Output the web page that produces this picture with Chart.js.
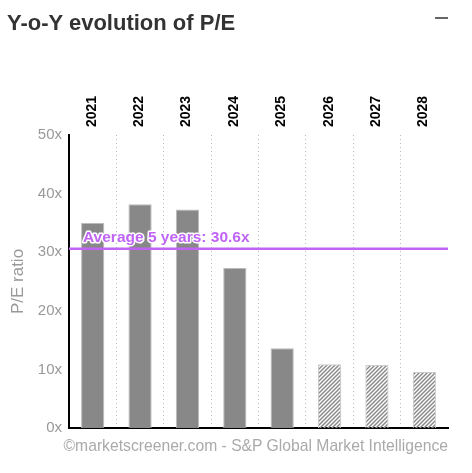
<!DOCTYPE html>
<html>
<head>
<meta charset="utf-8">
<script src="https://cdn.jsdelivr.net/npm/chart.js@4/dist/chart.umd.min.js"></script>
<style>
  html, body { margin: 0; padding: 0; background: #fff; }
  #wrap { position: relative; width: 472px; height: 473px; overflow: hidden; font-family: Arial, "Liberation Sans", sans-serif; }
  #title { position: absolute; left: 7px; top: 11px; font-size: 22px; font-weight: bold; color: #333; line-height: 24px; white-space: nowrap; }
  #minus { position: absolute; left: 435px; top: 17px; width: 13px; height: 2px; background: #666; }
  #foot { position: absolute; right: 24px; top: 437px; font-size: 15.7px; color: #aaa; line-height: 18px; white-space: nowrap; }
  canvas { position: absolute; left: 0; top: 0; }
</style>
</head>
<body>
<div id="wrap">
  <canvas id="peChart" width="472" height="473"></canvas>
  <div id="title">Y-o-Y evolution of P/E</div>
  <div id="minus"></div>
  <div id="foot">©marketscreener.com - S&amp;P Global Market Intelligence</div>
</div>
<script>
// valeurs
const years = ["2021", "2022", "2023", "2024", "2025", "2026", "2027", "2028"];
const peValues = [35.0, 38.2, 37.3, 27.3, 13.6, 10.9, 10.75, 9.55];
const estimated = [false, false, false, false, false, true, true, true];
const average5y = 30.6;
const averageLabel = "Average 5 years: 30.6x";

// motif hachuré pour les estimations
function makeHatch() {
  const c = document.createElement("canvas");
  c.width = 4;
  c.height = 4;
  const g = c.getContext("2d");
  g.strokeStyle = "#8a8a8a";
  g.lineWidth = 1.5;
  g.beginPath();
  g.moveTo(0, 4); g.lineTo(4, 0);
  g.moveTo(-1, 1); g.lineTo(1, -1);
  g.moveTo(3, 5); g.lineTo(5, 3);
  g.stroke();
  return g.createPattern(c, "repeat");
}
const hatch = makeHatch();

const averageLine = {
  id: "averageLine",
  afterDatasetsDraw(chart) {
    const { ctx, chartArea, scales } = chart;
    const y = scales.y.getPixelForValue(average5y);
    ctx.save();
    ctx.strokeStyle = "#bf64f5";
    ctx.lineWidth = 2.5;
    ctx.beginPath();
    ctx.moveTo(chartArea.left, y);
    ctx.lineTo(chartArea.right, y);
    ctx.stroke();
    ctx.font = "bold 15.5px Arial, 'Liberation Sans', sans-serif";
    ctx.lineJoin = "round";
    ctx.strokeStyle = "#fff";
    ctx.lineWidth = 3;
    ctx.strokeText(averageLabel, chartArea.left + 14, y - 7);
    ctx.fillStyle = "#bf64f5";
    ctx.fillText(averageLabel, chartArea.left + 14, y - 7);
    ctx.restore();
  }
};

new Chart(document.getElementById("peChart"), {
  type: "bar",
  data: {
    labels: years,
    datasets: [{
      data: peValues,
      backgroundColor: estimated.map((e) => (e ? hatch : "#888")),
      borderColor: estimated.map((e) => (e ? "#ccc" : "#bbb")),
      borderWidth: 1,
      barPercentage: 0.49,
      categoryPercentage: 1,
      xAxisID: "x"
    }]
  },
  options: {
    responsive: false,
    animation: false,
    layout: { padding: { left: 0, right: 24, top: 0, bottom: 45 } },
    plugins: {
      legend: { display: false },
      tooltip: { enabled: false }
    },
    scales: {
      x: {
        position: "bottom",
        ticks: { display: false },
        border: { display: true, color: "#000", width: 2, dash: [1, 3] },
        grid: {
          offset: true,
          drawTicks: false,
          color: (c) => (c.index === undefined || c.index === 0 || c.index >= years.length ? "rgba(0,0,0,0)" : "#bbb"),
          lineWidth: 1
        },
        afterFit: (s) => { s.height = 0; }
      },
      x2: {
        type: "category",
        labels: years,
        position: "top",
        offset: true,
        grid: { display: false },
        border: { display: false },
        ticks: {
          color: "#000",
          font: { family: "Arial, 'Liberation Sans', sans-serif", size: 14, weight: "bold" },
          minRotation: 90,
          maxRotation: 90,
          labelOffset: 16,
          padding: 0
        },
        afterFit: (s) => { s.height = 135; }
      },
      y: {
        min: 0,
        max: 50,
        ticks: {
          stepSize: 10,
          color: "#999",
          padding: 7,
          font: { family: "Arial, 'Liberation Sans', sans-serif", size: 15 },
          callback: (v) => v + "x"
        },
        grid: { display: false, drawTicks: false },
        border: { display: true, color: "#000", width: 2 },
        title: {
          display: true,
          text: "P/E ratio",
          color: "#999",
          font: { family: "Arial, 'Liberation Sans', sans-serif", size: 17 },
          padding: { top: 8, bottom: 0 }
        },
        afterFit: (s) => { s.width = 69; }
      }
    }
  },
  plugins: [averageLine]
});
</script>
</body>
</html>
